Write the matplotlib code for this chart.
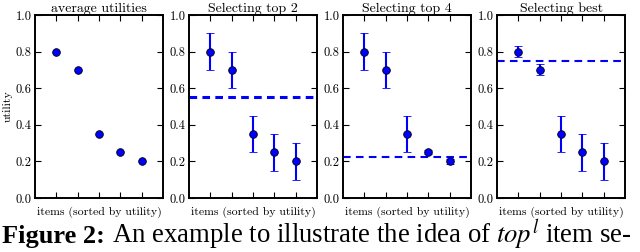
import matplotlib
matplotlib.use('Agg')
import matplotlib.pyplot as plt

# data
items = [1, 2, 3, 4, 5]
utilities = [0.8, 0.7, 0.35, 0.25, 0.2]
titles = ['average utilities', 'Selecting top 2', 'Selecting top 4', 'Selecting best']
errors = [None,
          [0.1, 0.1, 0.1, 0.1, 0.1],
          [0.1, 0.1, 0.1, 0.012, 0.012],
          [0.03, 0.03, 0.1, 0.1, 0.1]]
thresholds = [None, 0.55, 0.225, 0.75]
yticks = [0.0, 0.2, 0.4, 0.6, 0.8, 1.0]

plt.rcParams['font.family'] = 'cmr10'
plt.rcParams['mathtext.fontset'] = 'stix'
plt.rcParams['lines.scale_dashes'] = False

fig = plt.figure(figsize=(6.4, 2.52), dpi=100)
lefts = [35, 189, 343, 497]

for i, left in enumerate(lefts):
    ax = fig.add_axes([left / 640, 54 / 252, 128 / 640, 183 / 252])
    if errors[i] is None:
        ax.plot(items, utilities, 'o', color='blue', mec='black', mew=0.6, ms=5.5)
    else:
        ax.errorbar(items, utilities, yerr=errors[i], fmt='o', color='blue',
                    ecolor='blue', mec='black', mew=0.6, ms=5.5,
                    elinewidth=1.5, capsize=2.6, capthick=1.2)
        lw = 2.2 if i == 1 else 1.5
        ax.axhline(thresholds[i], color='blue', ls='--', lw=lw, dashes=(5.5, 3.8))
    ax.set_xlim(0, 6)
    ax.set_ylim(0, 1)
    ax.set_xticks(items)
    ax.set_xticklabels([])
    ax.set_yticks(yticks)
    ax.set_yticklabels(['%.1f' % v for v in yticks])
    ax.tick_params(direction='in', top=True, right=True, length=4, width=0.8,
                   labelsize=9, pad=2.5)
    for s in ax.spines.values():
        s.set_linewidth(1.4)
    ax.set_title(titles[i], fontsize=10, pad=2)
    ax.set_xlabel('items (sorted by utility)', fontsize=8.5, labelpad=4)
    if i == 0:
        ax.set_ylabel('utility', fontsize=8.5, labelpad=2)

# caption
t1 = fig.text(0.003, 8.5 / 252, 'Figure 2:', fontsize=19, fontweight='bold',
              family='Liberation Serif', va='baseline')
fig.canvas.draw()
bb = t1.get_window_extent()
fig.text((bb.x1 + 7) / 640, 8.5 / 252,
         r'An example to illustrate the idea of $top^l$ item se-',
         fontsize=19.3, family='Liberation Serif', va='baseline')

fig.savefig('out.png', dpi=100)
